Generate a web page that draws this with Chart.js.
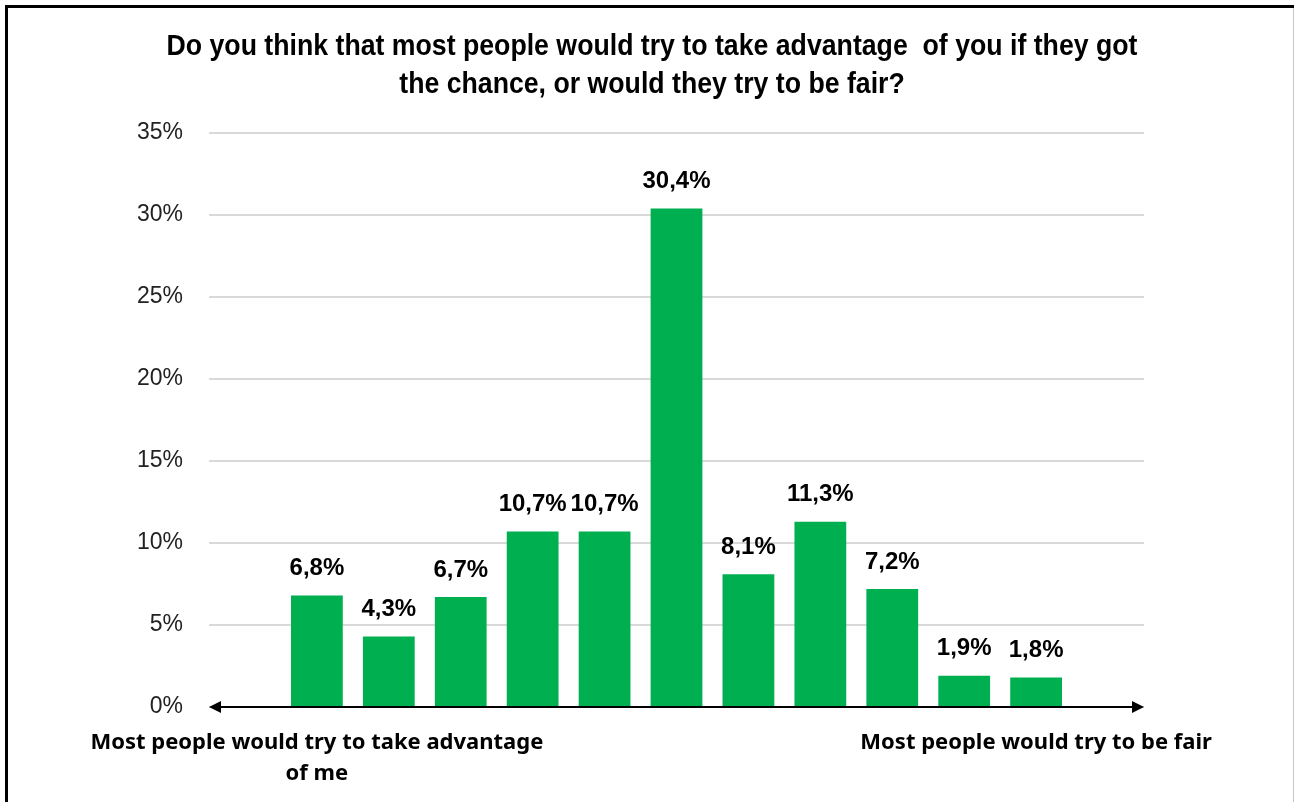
<!DOCTYPE html>
<html>
<head>
<meta charset="utf-8">
<script src="https://cdn.jsdelivr.net/npm/chart.js@4/dist/chart.umd.min.js"></script>
<style>
  html, body { margin: 0; padding: 0; background: #fff; }
  #wrap { position: relative; width: 1295px; height: 802px; }
  canvas { display: block; }
</style>
</head>
<body>
<div id="wrap"><canvas id="chart" width="1295" height="802"></canvas></div>
<script>
// Survey answers on an 11-point scale, with an empty slot at each end of the axis
const categories = [
  '',
  ['Most people would try to take advantage', 'of me'],
  '', '', '', '', '', '', '', '', '',
  'Most people would try to be fair',
  ''
];
const shares = [null, 6.8, 4.3, 6.7, 10.7, 10.7, 30.4, 8.1, 11.3, 7.2, 1.9, 1.8, null];
const yTicks = [0, 5, 10, 15, 20, 25, 30, 35];
const titleLines = [
  'Do you think that most people would try to take advantage  of you if they got',
  'the chance, or would they try to be fair?'
];

const GREEN = '#00B050';

// Frame around the whole figure
const framePlugin = {
  id: 'frame',
  beforeDraw(chart) {
    const ctx = chart.ctx;
    ctx.save();
    ctx.fillStyle = '#fff';
    ctx.fillRect(0, 0, chart.width, chart.height);
    ctx.fillStyle = '#000';
    ctx.fillRect(5, 5, 1289, 3);
    ctx.fillRect(5, 5, 3, chart.height - 5);
    ctx.fillStyle = '#c8c8c8';
    ctx.fillRect(1293, 8, 1, chart.height - 8);
    ctx.restore();
  }
};

// Two-line title in a slightly condensed bold face
const titlePlugin = {
  id: 'condensedTitle',
  afterDraw(chart) {
    const ctx = chart.ctx;
    const cx = 652;
    const squeeze = 0.92;
    ctx.save();
    ctx.font = 'bold 29px "Liberation Sans", Arial, sans-serif';
    ctx.fillStyle = '#000';
    ctx.textAlign = 'center';
    ctx.textBaseline = 'middle';
    titleLines.forEach((line, i) => {
      ctx.save();
      ctx.translate(cx, 47 + i * 38);
      ctx.scale(squeeze, 1);
      ctx.fillText(line, 0, 0);
      ctx.restore();
    });
    ctx.restore();
  }
};

// Double-headed arrow along the zero line
const arrowAxisPlugin = {
  id: 'arrowAxis',
  afterDatasetsDraw(chart) {
    const { ctx, chartArea } = chart;
    const y = chart.scales.y.getPixelForValue(0);
    const l = chartArea.left, r = chartArea.right;
    const head = 12, half = 6;
    ctx.save();
    ctx.strokeStyle = '#000';
    ctx.fillStyle = '#000';
    ctx.lineWidth = 2;
    ctx.beginPath();
    ctx.moveTo(l + head - 2, y);
    ctx.lineTo(r - head + 2, y);
    ctx.stroke();
    ctx.beginPath();
    ctx.moveTo(l, y);
    ctx.lineTo(l + head, y - half);
    ctx.lineTo(l + head, y + half);
    ctx.closePath();
    ctx.fill();
    ctx.beginPath();
    ctx.moveTo(r, y);
    ctx.lineTo(r - head, y - half);
    ctx.lineTo(r - head, y + half);
    ctx.closePath();
    ctx.fill();
    ctx.restore();
  }
};

// Value labels above each bar, with a decimal comma
const valueLabelPlugin = {
  id: 'valueLabels',
  afterDatasetsDraw(chart) {
    const ctx = chart.ctx;
    const meta = chart.getDatasetMeta(0);
    ctx.save();
    ctx.font = 'bold 24px "Liberation Sans", Arial, sans-serif';
    ctx.fillStyle = '#000';
    ctx.textAlign = 'center';
    ctx.textBaseline = 'middle';
    meta.data.forEach((bar, i) => {
      const v = shares[i];
      if (v === null || v === undefined) return;
      const txt = v.toFixed(1).replace('.', ',') + '%';
      ctx.fillText(txt, bar.x, bar.y - 27);
    });
    ctx.restore();
  }
};

new Chart(document.getElementById('chart'), {
  type: 'bar',
  data: {
    labels: categories,
    datasets: [{
      data: shares,
      backgroundColor: GREEN,
      borderWidth: 0,
      barPercentage: 0.72,
      categoryPercentage: 1.0
    }]
  },
  options: {
    responsive: false,
    animation: false,
    layout: { padding: { left: 0, right: 151, top: 133, bottom: 0 } },
    plugins: {
      legend: { display: false },
      tooltip: { enabled: false },
      title: { display: false }
    },
    scales: {
      x: {
        grid: { display: false, drawTicks: false },
        border: { display: false },
        ticks: {
          autoSkip: false,
          maxRotation: 0,
          minRotation: 0,
          padding: 20,
          color: '#000',
          font: { family: '"Noto Sans", "Open Sans", sans-serif', size: 22, weight: 'bold', lineHeight: 31 / 22 }
        },
        afterFit(scale) { scale.height = 95; }
      },
      y: {
        min: 0,
        max: 35,
        afterBuildTicks(scale) { scale.ticks = yTicks.map(v => ({ value: v })); },
        grid: { color: '#d9d9d9', lineWidth: 2, drawTicks: false },
        border: { display: false },
        ticks: {
          padding: 26,
          color: '#222',
          font: { family: '"Liberation Sans", Arial, sans-serif', size: 23 },
          callback: (v) => v + '%'
        },
        afterFit(scale) { scale.width = 209; }
      }
    }
  },
  plugins: [framePlugin, arrowAxisPlugin, valueLabelPlugin, titlePlugin]
});
</script>
</body>
</html>
